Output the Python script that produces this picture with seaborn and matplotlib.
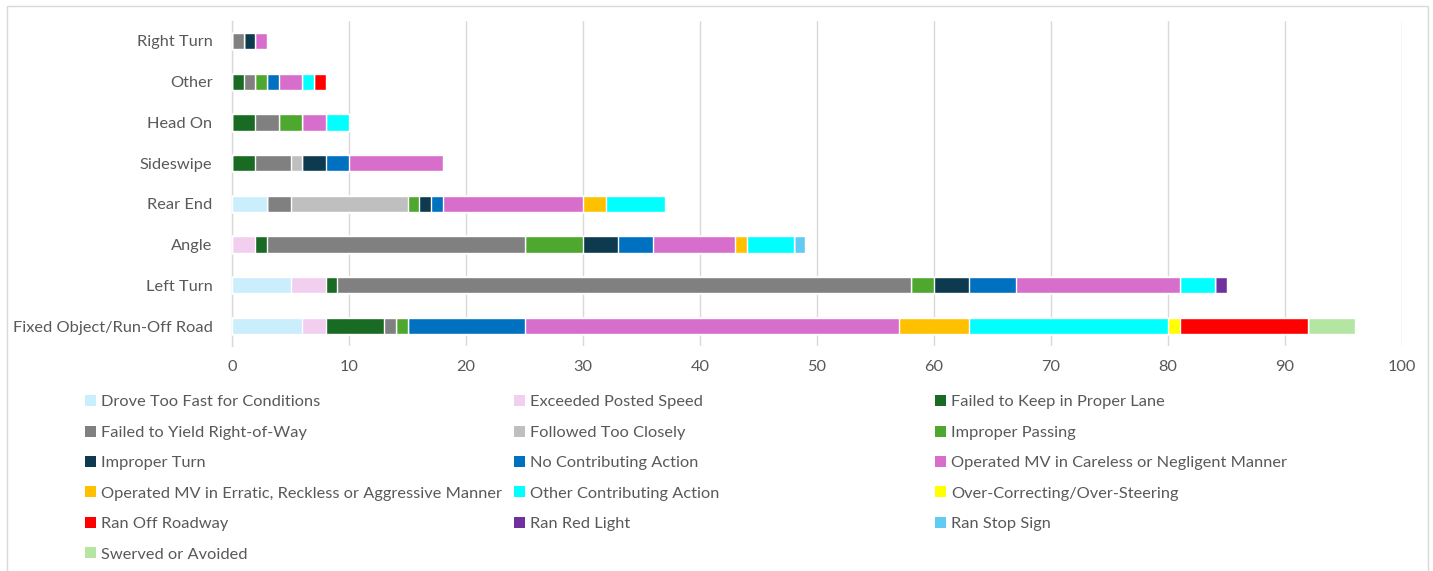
import numpy as np
import pandas as pd
import matplotlib
matplotlib.use("Agg")
import matplotlib.pyplot as plt
from matplotlib.patches import Patch, Rectangle
import seaborn as sns

# crash types (top to bottom)
crash_types = ["Right Turn", "Other", "Head On", "Sideswipe", "Rear End",
               "Angle", "Left Turn", "Fixed Object/Run-Off Road"]

# contributing actions, one list per action, same order as crash_types
drove_too_fast = [0, 0, 0, 0, 3, 0, 5, 6]
exceeded_speed = [0, 0, 0, 0, 0, 2, 3, 2]
failed_keep_lane = [0, 1, 2, 2, 0, 1, 1, 5]
failed_yield = [1, 1, 2, 3, 2, 22, 49, 1]
followed_closely = [0, 0, 0, 1, 10, 0, 0, 0]
improper_passing = [0, 1, 2, 0, 1, 5, 2, 1]
improper_turn = [1, 0, 0, 2, 1, 3, 3, 0]
no_action = [0, 1, 0, 2, 1, 3, 4, 10]
careless = [1, 2, 2, 8, 12, 7, 14, 32]
erratic = [0, 0, 0, 0, 2, 1, 0, 6]
other_action = [0, 1, 2, 0, 5, 4, 3, 17]
over_correcting = [0, 0, 0, 0, 0, 0, 0, 1]
ran_off_road = [0, 1, 0, 0, 0, 0, 0, 11]
ran_red_light = [0, 0, 0, 0, 0, 0, 1, 0]
ran_stop_sign = [0, 0, 0, 0, 0, 1, 0, 0]
swerved = [0, 0, 0, 0, 0, 0, 0, 4]

series = [
    ("Drove Too Fast for Conditions", drove_too_fast, "#CAEEFB"),
    ("Exceeded Posted Speed", exceeded_speed, "#F2CEEF"),
    ("Failed to Keep in Proper Lane", failed_keep_lane, "#196B24"),
    ("Failed to Yield Right-of-Way", failed_yield, "#808080"),
    ("Followed Too Closely", followed_closely, "#BFBFBF"),
    ("Improper Passing", improper_passing, "#4EA72E"),
    ("Improper Turn", improper_turn, "#0E3A4F"),
    ("No Contributing Action", no_action, "#0070C0"),
    ("Operated MV in Careless or Negligent Manner", careless, "#D86ECC"),
    ("Operated MV in Erratic, Reckless or Aggressive Manner", erratic, "#FFC000"),
    ("Other Contributing Action", other_action, "#00FFFF"),
    ("Over-Correcting/Over-Steering", over_correcting, "#FFFF00"),
    ("Ran Off Roadway", ran_off_road, "#FF0000"),
    ("Ran Red Light", ran_red_light, "#7030A0"),
    ("Ran Stop Sign", ran_stop_sign, "#61CBF3"),
    ("Swerved or Avoided", swerved, "#B4E5A2"),
]

sns.set_theme(style="white")
plt.rcParams["font.family"] = ["Lato", "DejaVu Sans"]
txt = "#595959"
grid = "#D9D9D9"
fs = 11.8

fig = plt.figure(figsize=(14.33, 5.71), dpi=100)
ax = fig.add_axes([0.1619, 0.3933, 0.8165, 0.5706])

# stacked bars: draw cumulative totals from longest to shortest
cum = np.cumsum(np.array([s[1] for s in series]), axis=0)
for i in range(len(series) - 1, -1, -1):
    df = pd.DataFrame({"type": crash_types, "value": cum[i]})
    sns.barplot(data=df, x="value", y="type", orient="h", color=series[i][2],
                saturation=1, width=0.4, ax=ax, errorbar=None, zorder=3)

ax.set_xlim(0, 100)
ax.set_ylim(7.5, -0.5)
ax.set_xticks(range(0, 101, 10))
ax.set_xlabel("")
ax.set_ylabel("")
ax.grid(axis="x", color=grid, linewidth=1, zorder=0)
ax.grid(axis="y", visible=False)
for s in ["top", "right", "bottom"]:
    ax.spines[s].set_visible(False)
ax.spines["left"].set_color(grid)
ax.spines["left"].set_linewidth(1)
ax.tick_params(axis="both", length=0, labelsize=fs, labelcolor=txt)
ax.tick_params(axis="y", pad=14)
ax.tick_params(axis="x", pad=10)

# legend in three columns, row-major like the original
handles = [Patch(facecolor=c, edgecolor="none") for _, _, c in series]
labels = [n for n, _, _ in series]
col_x = [85 / 1433, 514 / 1433, 935 / 1433]
for col in range(3):
    idx = list(range(col, len(series), 3))
    leg = fig.legend([handles[i] for i in idx], [labels[i] for i in idx],
                     loc="upper left", bbox_to_anchor=(col_x[col], 0.308),
                     frameon=False, fontsize=fs, borderpad=0, borderaxespad=0,
                     handlelength=0.65, handleheight=0.65, handletextpad=0.35,
                     labelspacing=0.99)
    for t in leg.get_texts():
        t.set_color(txt)

# chart border
fig.patches.append(Rectangle((7 / 1433, -0.05), 1421 / 1433, 1.05 - 6 / 571,
                             transform=fig.transFigure, fill=False,
                             edgecolor=grid, linewidth=1))

fig.savefig("out.png", dpi=100)
